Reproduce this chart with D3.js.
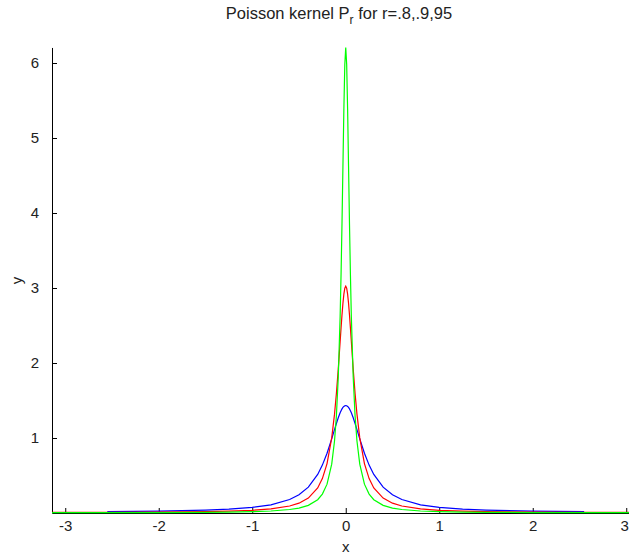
<!DOCTYPE html>
<html>
<head>
<meta charset="utf-8">
<script src="https://cdn.jsdelivr.net/npm/d3@7"></script>
<style>
  body { margin: 0; background: #fff; }
  svg { display: block; font-family: "Liberation Sans", Arial, sans-serif; }
</style>
</head>
<body>
<div id="chart"></div>
<script>
// Poisson kernel values (r = .8 blue, r = .9 red, r = .95 green)
const xValues = [-3.1416, -2.5, -2, -1.5, -1.25, -1, -0.8, -0.6, -0.5, -0.4, -0.3, -0.25, -0.2, -0.15,
  -0.12, -0.1, -0.08, -0.06, -0.05, -0.04, -0.03, -0.02, -0.01, 0,
  0.01, 0.02, 0.03, 0.04, 0.05, 0.06, 0.08, 0.1, 0.12, 0.15, 0.2, 0.25, 0.3, 0.4, 0.5, 0.6, 0.8, 1,
  1.25, 1.5, 2, 2.5, 3.1416];

const redValues = [0.0084, 0.0093, 0.0118, 0.0180, 0.0243, 0.0361, 0.0544, 0.0932, 0.1313, 0.1988,
  0.3345, 0.4585, 0.6591, 1.0009, 1.3179, 1.5922, 1.9187, 2.2839, 2.4685, 2.6433, 2.7973, 2.9188,
  2.9969, 3.0239,
  2.9969, 2.9188, 2.7973, 2.6433, 2.4685, 2.2839, 1.9187, 1.5922, 1.3179, 1.0009, 0.6591, 0.4585,
  0.3345, 0.1988, 0.1313, 0.0932, 0.0544, 0.0361, 0.0243, 0.0180, 0.0118, 0.0093, 0.0084];

const greenValues = [0.0041, 0.0045, 0.0058, 0.0088, 0.0119, 0.0177, 0.0268, 0.0464, 0.0660, 0.1018,
  0.1776, 0.2520, 0.3844, 0.6511, 0.9600, 1.2940, 1.8086, 2.6213, 3.1832, 3.8602, 4.6254, 5.3882,
  5.9800, 6.2072,
  5.9800, 5.3882, 4.6254, 3.8602, 3.1832, 2.6213, 1.8086, 1.2940, 0.9600, 0.6511, 0.3844, 0.2520,
  0.1776, 0.1018, 0.0660, 0.0464, 0.0268, 0.0177, 0.0119, 0.0088, 0.0058, 0.0045, 0.0041];

// blue curve only covers roughly -2.55 .. 2.55 in the picture
const xBlue = [-2.55, -2, -1.5, -1.25, -1, -0.8, -0.6, -0.5, -0.4, -0.3, -0.25, -0.2, -0.15,
  -0.12, -0.1, -0.08, -0.06, -0.05, -0.04, -0.03, -0.02, -0.01, 0,
  0.01, 0.02, 0.03, 0.04, 0.05, 0.06, 0.08, 0.1, 0.12, 0.15, 0.2, 0.25, 0.3, 0.4, 0.5, 0.6, 0.8, 1,
  1.25, 1.5, 2, 2.55];

const blueValues = [0.0193, 0.0249, 0.0375, 0.0505, 0.0739, 0.1091, 0.1794, 0.2429, 0.3445, 0.5140,
  0.6385, 0.7970, 0.9884, 1.1124, 1.1938, 1.2699, 1.3362, 1.3642, 1.3880, 1.4071, 1.4210, 1.4295,
  1.4324,
  1.4295, 1.4210, 1.4071, 1.3880, 1.3642, 1.3362, 1.2699, 1.1938, 1.1124, 0.9884, 0.7970, 0.6385,
  0.5140, 0.3445, 0.2429, 0.1794, 0.1091, 0.0739, 0.0505, 0.0375, 0.0249, 0.0193];

const xTicks = [-3, -2, -1, 0, 1, 2, 3];
const yTicks = [1, 2, 3, 4, 5, 6];

const series = [
  { xs: xBlue, ys: blueValues, color: '#0000ff' },
  { xs: xValues, ys: redValues, color: '#ff0000' },
  { xs: xValues, ys: greenValues, color: '#00ff00' }
];

const width = 629;
const height = 559;

const svg = d3.select('#chart')
  .append('svg')
  .attr('width', width)
  .attr('height', height);

const xScale = d3.scaleLinear()
  .domain([-Math.PI, Math.PI])
  .range([52, 52 + 2 * Math.PI * 93.5]);

const yScale = d3.scaleLinear()
  .domain([0, 6.2072])
  .range([513, 513 - 6.2072 * 75]);

// Axes (MATLAB style: ticks pointing inward, plain hyphen minus)
const xAxis = svg.append('g')
  .attr('transform', `translate(0,${yScale(0)})`)
  .call(d3.axisBottom(xScale).tickValues(xTicks).tickFormat(d => String(d))
    .tickSizeInner(-5).tickSizeOuter(0).tickPadding(7));

const yAxis = svg.append('g')
  .attr('transform', `translate(${xScale(-Math.PI)},0)`)
  .call(d3.axisLeft(yScale).tickValues(yTicks).tickFormat(d => String(d))
    .tickSizeInner(-5).tickSizeOuter(0).tickPadding(13));

[xAxis, yAxis].forEach(ax => {
  ax.select('.domain').attr('stroke', '#000');
  ax.selectAll('.tick line').attr('stroke', '#000');
  ax.selectAll('.tick text')
    .attr('fill', '#222')
    .style('font-size', '15px')
    .style('font-family', '"Liberation Sans", Arial, sans-serif');
});

// last x label sits at the window edge; nudge it so it stays visible
xAxis.selectAll('.tick text').filter(d => d === 3).attr('dx', -2);

// Curves
const line = d3.line()
  .x(d => xScale(d[0]))
  .y(d => yScale(d[1]));

series.forEach(s => {
  svg.append('path')
    .datum(s.xs.map((x, i) => [x, s.ys[i]]))
    .attr('fill', 'none')
    .attr('stroke', s.color)
    .attr('stroke-width', 1.2)
    .attr('d', line);
});

// Title with subscript
const title = svg.append('text')
  .attr('x', 339)
  .attr('y', 19)
  .attr('text-anchor', 'middle')
  .attr('fill', '#222')
  .style('font-size', '16.5px');
title.append('tspan').text('Poisson kernel P');
title.append('tspan').attr('dy', 5).style('font-size', '12px').text('r');
title.append('tspan').attr('dy', -5).text(' for r=.8,.9,95');

// Axis labels
svg.append('text')
  .attr('x', xScale(0))
  .attr('y', 552)
  .attr('text-anchor', 'middle')
  .attr('fill', '#222')
  .style('font-size', '15px')
  .text('x');

svg.append('text')
  .attr('transform', `translate(22,${yScale(3.1)}) rotate(-90)`)
  .attr('text-anchor', 'middle')
  .attr('fill', '#222')
  .style('font-size', '15px')
  .text('y');
</script>
</body>
</html>
